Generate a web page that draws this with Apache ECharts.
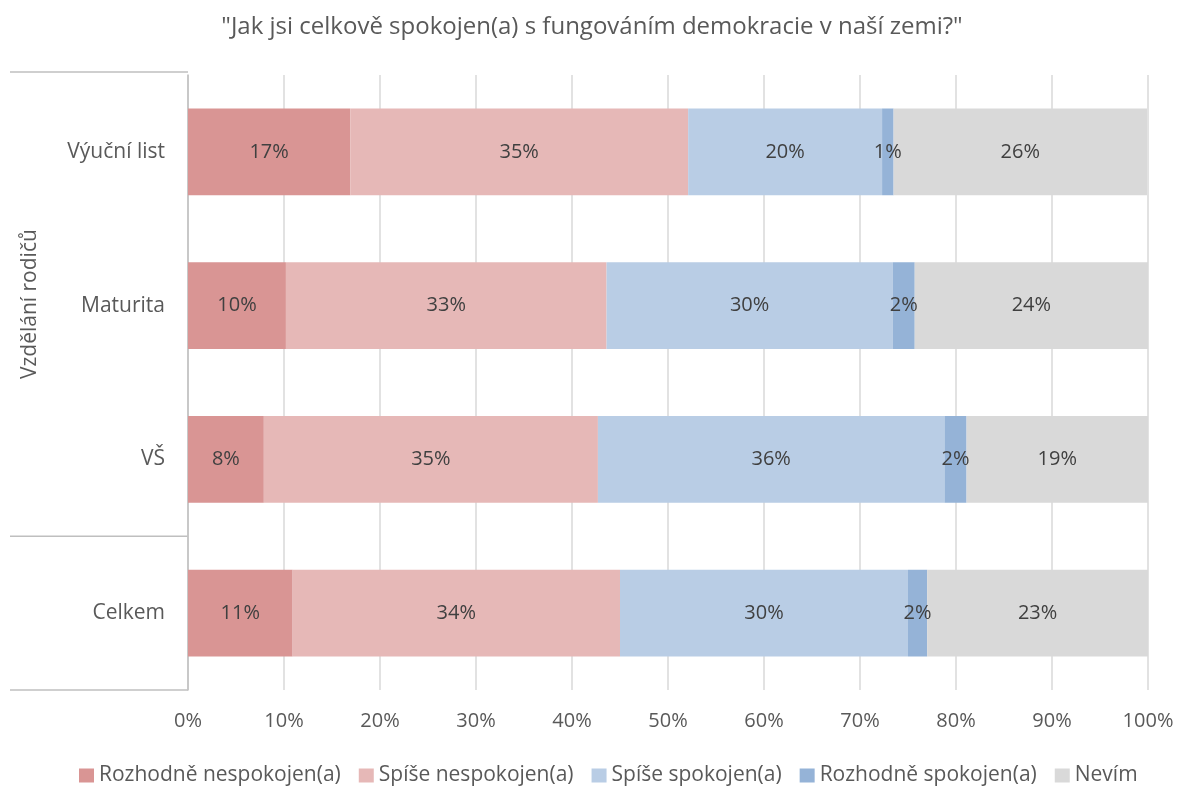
<!DOCTYPE html>
<html>
<head>
<meta charset="utf-8">
<script src="https://cdn.jsdelivr.net/npm/echarts@6/dist/echarts.min.js"></script>
<style>
  html, body { margin: 0; padding: 0; background: #fff; }
  #chart { width: 1184px; height: 787px; }
</style>
</head>
<body>
<div id="chart"></div>
<script>
// kategorie (shora dolů)
const categories = ['Výuční list', 'Maturita', 'VŠ', 'Celkem']
const seriesNames = ['Rozhodně nespokojen(a)', 'Spíše nespokojen(a)', 'Spíše spokojen(a)', 'Rozhodně spokojen(a)', 'Nevím']

// hodnoty v %
const rozhodneNespokojen = [16.9, 10.2, 7.9, 10.9]
const spiseNespokojen = [35.2, 33.4, 34.8, 34.1]
const spiseSpokojen = [20.2, 29.8, 36.1, 30.0]
const rozhodneSpokojen = [1.2, 2.3, 2.3, 2.0]
const nevim = [26.4, 24.3, 18.9, 23.0]

const xTicks = [0, 10, 20, 30, 40, 50, 60, 70, 80, 90, 100]

const colors = ['#D99594', '#E6B8B7', '#B9CDE5', '#95B3D7', '#D9D9D9']
const values = [rozhodneNespokojen, spiseNespokojen, spiseSpokojen, rozhodneSpokojen, nevim]

const FONT = '"Open Sans", Lato, sans-serif'
const gridTop = 75
const gridBottom = 97
const gridLeft = 188
const chartH = 787

const chart = echarts.init(document.getElementById('chart'))

const series = seriesNames.map((name, i) => ({
  name,
  type: 'bar',
  stack: 'total',
  barCategoryGap: '43.5%',
  data: values[i],
  itemStyle: { color: colors[i] },
  label: {
    show: true,
    position: 'inside',
    color: '#404040',
    fontFamily: FONT,
    fontSize: 20,
    formatter: p => Math.round(p.value) + '%'
  }
}))

// rámeček kategorií vlevo (čáry skupiny)
const plotH = chartH - gridTop - gridBottom
const band = plotH / categories.length
const sepY = gridTop + band * 3

const option = {
  animation: false,
  title: {
    text: '"Jak jsi celkově spokojen(a) s fungováním demokracie v naší zemi?"',
    left: 'center',
    top: 10,
    textStyle: { color: '#595959', fontSize: 24, fontWeight: 'normal', fontFamily: FONT }
  },
  legend: {
    data: seriesNames,
    top: 760,
    left: 74,
    itemWidth: 15,
    itemHeight: 14,
    itemGap: 18,
    icon: 'rect',
    textStyle: { color: '#595959', fontSize: 21, fontFamily: FONT }
  },
  grid: { left: gridLeft, right: 36, top: gridTop, bottom: gridBottom },
  xAxis: {
    type: 'value',
    min: 0,
    max: 100,
    interval: 10,
    axisLine: { show: false },
    axisTick: { show: false },
    splitLine: { lineStyle: { color: '#D9D9D9', width: 1.5 } },
    axisLabel: {
      color: '#595959',
      fontSize: 20,
      fontFamily: FONT,
      margin: 21,
      formatter: v => (xTicks.includes(v) ? v + '%' : '')
    }
  },
  yAxis: {
    type: 'category',
    inverse: true,
    data: categories,
    axisLine: { show: true, lineStyle: { color: '#BFBFBF', width: 1.5 } },
    axisTick: { show: false },
    axisLabel: { color: '#595959', fontSize: 21, fontFamily: FONT, margin: 23 }
  },
  graphic: [
    { type: 'line', shape: { x1: 10, y1: 72, x2: gridLeft, y2: 72 }, style: { stroke: '#BFBFBF', lineWidth: 1.5 } },
    { type: 'line', shape: { x1: 10, y1: sepY, x2: gridLeft, y2: sepY }, style: { stroke: '#BFBFBF', lineWidth: 1.5 } },
    { type: 'line', shape: { x1: 10, y1: chartH - gridBottom, x2: gridLeft, y2: chartH - gridBottom }, style: { stroke: '#BFBFBF', lineWidth: 1.5 } },
    {
      type: 'text',
      x: 30,
      y: (72 + sepY) / 2,
      rotation: Math.PI / 2,
      style: {
        text: 'Vzdělání rodičů',
        fill: '#595959',
        font: '21px ' + FONT,
        align: 'center',
        verticalAlign: 'middle'
      }
    }
  ],
  series
}

chart.setOption(option)
</script>
</body>
</html>
